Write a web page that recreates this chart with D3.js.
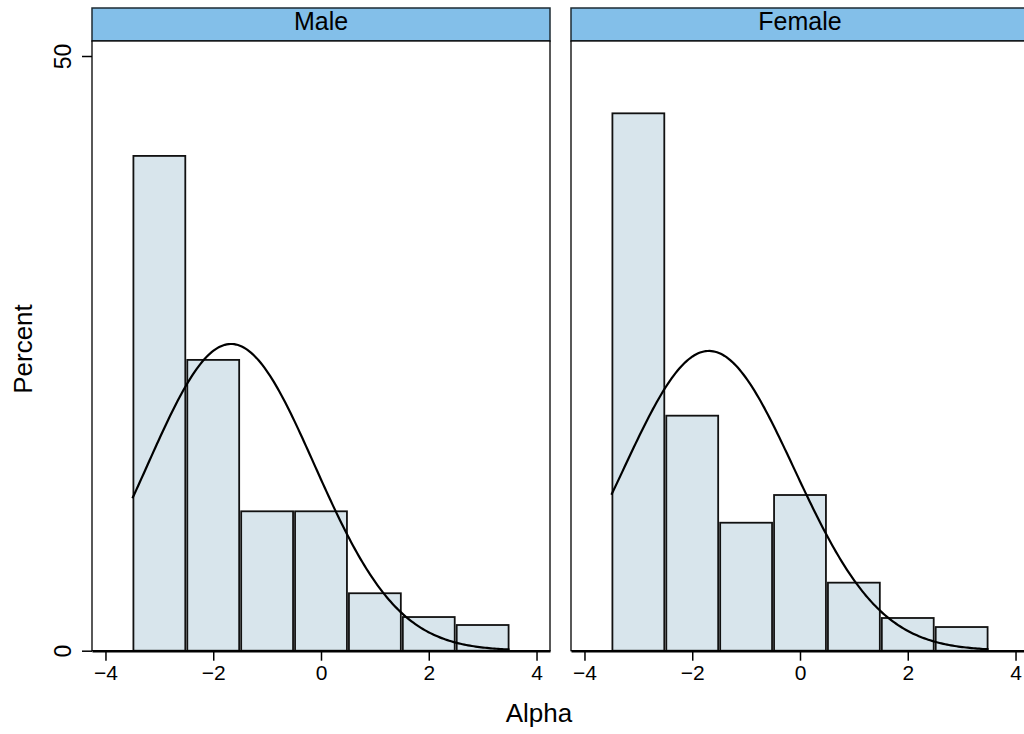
<!DOCTYPE html>
<html>
<head>
<meta charset="utf-8">
<script src="https://cdn.jsdelivr.net/npm/d3@7"></script>
<style>
  body { margin: 0; background: #fff; }
  text { font-family: "Liberation Sans", Arial, Helvetica, sans-serif; fill: #000; }
</style>
</head>
<body>
<svg id="chart" width="1024" height="734"></svg>
<script>
// data
var panels = ["Male", "Female"];
var binStarts = [-3.5, -2.5, -1.5, -0.5, 0.5, 1.5, 2.5];
var binWidth = 1;
var malePercent = [41.6, 24.45, 11.72, 11.72, 4.83, 2.83, 2.16];
var femalePercent = [45.18, 19.76, 10.76, 13.09, 5.72, 2.75, 1.99];
var curveMean = [-1.67, -1.69];
var curveSd = [1.547, 1.583];
var xTicks = [-4, -2, 0, 2, 4];
var yTicks = [0, 50];

var series = [malePercent, femalePercent];

var svg = d3.select("#chart");
var panelLeft = [92, 571],
    panelW = 458,
    stripTop = 8,
    plotTop = 41,
    plotBottom = 650.7;

var y = d3.scaleLinear().domain([0, 50]).range([plotBottom, 56]);

panels.forEach(function (name, i) {
    var x0 = panelLeft[i];
    var x = d3.scaleLinear().domain([-4.25, 4.25]).range([x0, x0 + panelW]);
    var g = svg.append("g");

    // strip
    g.append("rect")
        .attr("x", x0).attr("y", stripTop)
        .attr("width", panelW).attr("height", plotTop - stripTop)
        .attr("fill", "#83bfe9").attr("stroke", "#1e2b33").attr("stroke-width", 1.5);
    g.append("text")
        .attr("x", x0 + panelW / 2).attr("y", 29.5)
        .attr("text-anchor", "middle").attr("font-size", 25)
        .text(name);

    // plot frame
    g.append("rect")
        .attr("x", x0).attr("y", plotTop)
        .attr("width", panelW).attr("height", plotBottom - plotTop)
        .attr("fill", "#fff").attr("stroke", "#000").attr("stroke-width", 1.3);

    // bars
    g.selectAll("rect.bar")
        .data(series[i])
        .enter().append("rect")
        .attr("class", "bar")
        .attr("x", function (d, j) { return x(binStarts[j]) + 1; })
        .attr("width", function (d, j) { return x(binStarts[j] + binWidth) - x(binStarts[j]) - 2; })
        .attr("y", function (d) { return y(d); })
        .attr("height", function (d) { return plotBottom - y(d); })
        .attr("fill", "#d8e5ec")
        .attr("stroke", "#111")
        .attr("stroke-width", 1.8);

    // normal density curve, scaled to percent per bin
    var m = curveMean[i], s = curveSd[i];
    var xs = d3.range(0, 201).map(function (k) { return -3.5 + 7 * k / 200; });
    var line = d3.line()
        .x(function (v) { return x(v); })
        .y(function (v) {
            var p = 100 * binWidth / (s * Math.sqrt(2 * Math.PI)) * Math.exp(-((v - m) * (v - m)) / (2 * s * s));
            return y(p);
        });
    g.append("path")
        .attr("d", line(xs))
        .attr("fill", "none").attr("stroke", "#000").attr("stroke-width", 2.2);

    // x axis
    var xAxis = d3.axisBottom(x).tickValues(xTicks).tickSize(10).tickSizeOuter(0).tickPadding(4)
        .tickFormat(d3.format("d"));
    var ax = g.append("g").attr("transform", "translate(0," + plotBottom + ")").call(xAxis);
    ax.select(".domain").attr("stroke", "#000").attr("stroke-width", 2.4);
    ax.selectAll(".tick line").attr("stroke", "#000").attr("stroke-width", 1.5);
    ax.selectAll(".tick text").attr("font-size", 21).attr("font-family", "Liberation Sans, Arial, sans-serif").attr("fill", "#000");

    // y axis on first panel only
    if (i === 0) {
        var yAxis = d3.axisLeft(y).tickValues(yTicks).tickSize(10).tickFormat(d3.format("d"));
        var ay = g.append("g").attr("transform", "translate(" + x0 + ",0)").call(yAxis);
        ay.select(".domain").remove();
        ay.selectAll(".tick line").attr("stroke", "#000").attr("stroke-width", 1.5);
        ay.selectAll(".tick text")
            .attr("font-size", 23).attr("font-family", "Liberation Sans, Arial, sans-serif").attr("fill", "#000")
            .attr("x", null).attr("dy", null)
            .attr("text-anchor", "middle")
            .attr("transform", "translate(-21,0) rotate(-90)");
    }
});

// axis titles
svg.append("text")
    .attr("x", 539).attr("y", 722)
    .attr("text-anchor", "middle").attr("font-size", 26)
    .text("Alpha");
svg.append("text")
    .attr("transform", "translate(32,349) rotate(-90)")
    .attr("text-anchor", "middle").attr("font-size", 26)
    .text("Percent");
</script>
</body>
</html>
